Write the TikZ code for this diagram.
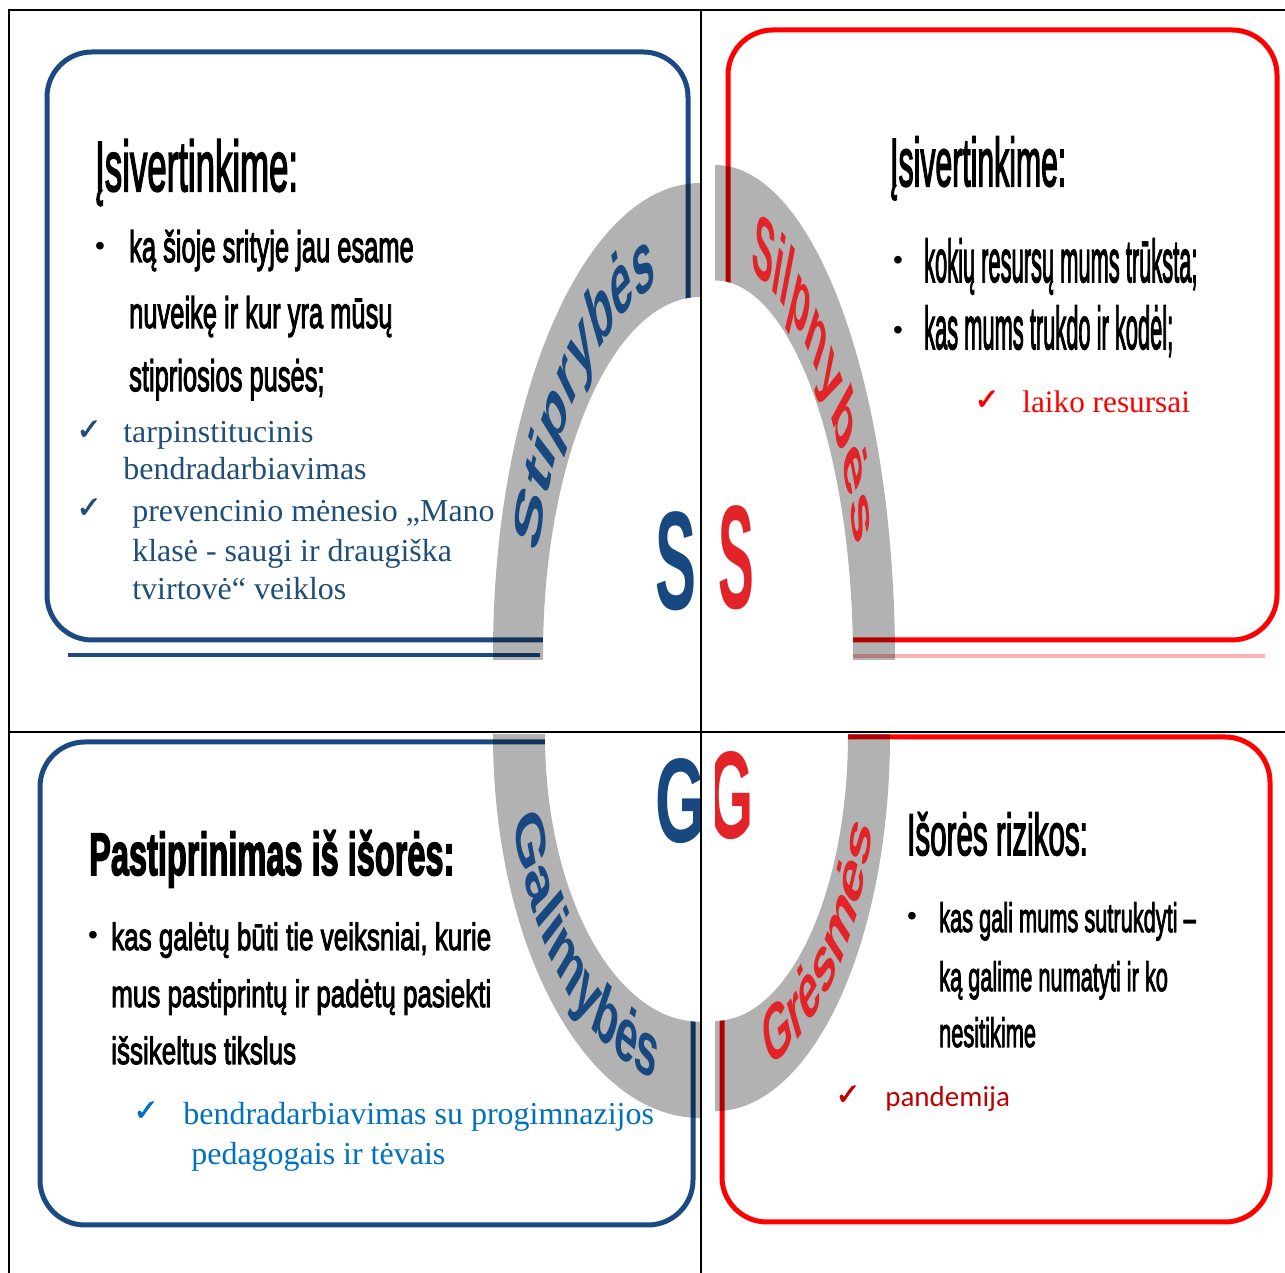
\documentclass[tikz,border=0pt]{standalone}
\usepackage{fontspec}
\setmainfont{Liberation Serif}
\setsansfont{Liberation Sans}
\newfontfamily\calibri{Carlito}
\newfontfamily\narrow[FakeBold=3]{Liberation Sans}
\newfontfamily\checkfont[FakeBold=2]{DejaVu Sans}
\usetikzlibrary{decorations.text}

\definecolor{sblue}{RGB}{24,72,128}
\definecolor{sred}{RGB}{226,36,40}
\definecolor{boxblue}{RGB}{28,73,130}
\definecolor{navy}{RGB}{31,78,121}
\definecolor{wordblue}{RGB}{0,112,192}
\definecolor{darkred}{RGB}{192,0,0}

\newcommand{\fs}[1]{\fontsize{#1}{#1}\selectfont}

\begin{document}
\begin{tikzpicture}[x=0.02cm, y=0.02cm,
    cell/.style={line width=0.04cm},
    bluebox/.style={draw=boxblue, line width=0.1cm, rounded corners=0.9cm},
    redbox/.style={draw=red, line width=0.1cm, rounded corners=0.9cm},
    band/.style={fill=black, fill opacity=0.3, even odd rule},
    txt/.style={anchor=base west, inner sep=0pt},
    tick/.style={inner sep=0pt, font=\checkfont\fs{17}},
    dot/.style={inner sep=0pt, font=\sffamily\fs{16}}]

  \useasboundingbox (0,0) rectangle (1285,1273);

  %%% boxes %%%
  \draw[bluebox] (47,633) rectangle (688,1221);
  \draw[boxblue, line width=0.08cm] (68,618) -- (540,618);
  \draw[redbox] (728,633) rectangle (1277,1243);
  \draw[red!30, line width=0.08cm] (853,617) -- (1265,617);
  \draw[bluebox] (40,48) rectangle (693,531);
  \draw[redbox] (722,51) rectangle (1270,536);

  %%% Stiprybes %%%
  \begin{scope}
    \clip (0,613) rectangle (701,1263);
    \begin{scope}[transform canvas={shift={(700,618)}, yscale=2.28}]
      \fill[white] (0,0) circle[radius=157];
      \fill[band] (0,0) circle[radius=207] (0,0) circle[radius=157];
      \path[decorate, decoration={text along path, text align=center, text color=sblue,
        text={|\sffamily\bfseries\fs{22}|Stiprybės}}]
        (165:168) arc[start angle=165, end angle=105, radius=168];
      \node[font=\sffamily\bfseries\fs{35}, text=sblue, inner sep=0pt] (S1) at (-24,41) {S};
    \end{scope}
  \end{scope}

  %%% Silpnybes %%%
  \begin{scope}
    \clip (715,613) rectangle (1285,1263);
    \begin{scope}[transform canvas={shift={(715,613)}, yscale=2.75}]
      \fill[white] (0,0) circle[radius=138];
      \fill[band] (0,0) circle[radius=180] (0,0) circle[radius=138];
      \path[decorate, decoration={text along path, text align=center, text color=sred,
        text={|\sffamily\bfseries\fs{18.5}|Silpnybės}}]
        (86:146) arc[start angle=86, end angle=6, radius=146];
      \node[font=\sffamily\bfseries\fs{30.5}, text=sred, inner sep=0pt] (S2) at (21,37) {S};
    \end{scope}
  \end{scope}

  %%% Galimybes %%%
  \begin{scope}
    \clip (9,0) rectangle (701,538);
    \begin{scope}[transform canvas={shift={(700,538)}, yscale=1.85}]
      \fill[white] (0,0) circle[radius=155];
      \fill[band] (0,0) circle[radius=207] (0,0) circle[radius=155];
      \path[decorate, decoration={text along path, text align=center, text color=sblue,
        text={|\sffamily\bfseries\fs{23.5}|Galimybės}}]
        (190:192) arc[start angle=190, end angle=260, radius=192];
      \node[font=\sffamily\bfseries\fs{37}, text=sblue, inner sep=0pt] (G1) at (-19,-36) {G};
    \end{scope}
  \end{scope}

  %%% Gresmes %%%
  \begin{scope}
    \clip (715,0) rectangle (1285,538);
    \begin{scope}[transform canvas={shift={(715,538)}, yscale=2.15}]
      \fill[white] (0,0) circle[radius=133];
      \fill[band] (0,0) circle[radius=175] (0,0) circle[radius=133];
      \path[decorate, decoration={text along path, text align=center, text color=sred,
        text={|\sffamily\bfseries\fs{21}|Grėsmės}}]
        (287:164) arc[start angle=287, end angle=347, radius=164];
      \node[font=\sffamily\bfseries\fs{33}, text=sred, inner sep=0pt] (G2) at (16,-28) {G};
    \end{scope}
  \end{scope}

  % top left
  \node[txt, xscale=0.49, font=\narrow\fs{40.4}] (tl0) at (95,1082) {Įsivertinkime:};
  \node[dot] (tlb) at (100,1024) {•};
  \node[txt, xscale=0.58, font=\narrow\fs{25}] (tl1) at (129,1011) {ką šioje srityje jau esame};
  \node[txt, xscale=0.58, font=\narrow\fs{25}] (tl2) at (129,945) {nuveikę ir kur yra mūsų};
  \node[txt, xscale=0.58, font=\narrow\fs{25}] (tl3) at (129,882) {stipriosios pusės;};
  \node[tick, text=navy] (tlc1) at (89,843) {✓};
  \node[txt, text=navy, font=\fs{18.2}] (tl4) at (123,830) {tarpinstitucinis};
  \node[txt, text=navy, font=\fs{18.2}] (tl5) at (123,793) {bendradarbiavimas};
  \node[tick, text=navy] (tlc2) at (89,765) {✓};
  \node[txt, text=navy, font=\fs{18.2}] (tl6) at (132,751) {prevencinio mėnesio „Mano};
  \node[txt, text=navy, font=\fs{18.2}] (tl7) at (132,711) {klasė - saugi ir draugiška};
  \node[txt, text=navy, font=\fs{18.2}] (tl8) at (132,673) {tvirtovė“ veiklos};

  % top right
  \node[txt, xscale=0.444, font=\narrow\fs{38.7}] (tr0) at (890,1087) {Įsivertinkime:};
  \node[dot] (trb1) at (898,1010) {•};
  \node[txt, xscale=0.365, font=\narrow\fs{34.1}] (tr1) at (924,991) {kokių resursų mums trūksta;};
  \node[dot] (trb2) at (898,940) {•};
  \node[txt, xscale=0.365, font=\narrow\fs{34.1}] (tr2) at (924,924) {kas mums trukdo ir kodėl;};
  \node[tick, text=red] (trc) at (987,873) {✓};
  \node[txt, text=red, font=\fs{17.8}] (tr3) at (1022,860) {laiko resursai};

  % bottom left
  \node[txt, xscale=0.543, font=\narrow\bfseries\fs{34.1}] (bl0) at (89,398) {Pastiprinimas iš išorės:};
  \node[dot] (blb) at (93,335) {•};
  \node[txt, xscale=0.685, font=\narrow\fs{21.6}] (bl1) at (111,323) {kas galėtų būti tie veiksniai, kurie};
  \node[txt, xscale=0.685, font=\narrow\fs{21.6}] (bl2) at (111,266) {mus pastiprintų ir padėtų pasiekti};
  \node[txt, xscale=0.685, font=\narrow\fs{21.6}] (bl3) at (111,209) {išsikeltus tikslus};
  \node[tick, text=wordblue] (blc) at (146,162) {✓};
  \node[txt, text=wordblue, font=\fs{18.2}] (bl4) at (183,148) {bendradarbiavimas su progimnazijos};
  \node[txt, text=wordblue, font=\fs{18.2}] (bl5) at (191,108) {pedagogais ir tėvais};

  % bottom right
  \node[txt, xscale=0.504, font=\narrow\fs{33.4}] (br0) at (907,418) {Išorės rizikos:};
  \node[dot] (brb) at (912,354) {•};
  \node[txt, xscale=0.532, font=\narrow\fs{23.3}] (br1) at (939,341) {kas gali mums sutrukdyti –};
  \node[txt, xscale=0.532, font=\narrow\fs{23.3}] (br2) at (939,282) {ką galime numatyti ir ko};
  \node[txt, xscale=0.532, font=\narrow\fs{23.3}] (br3) at (939,226) {nesitikime};
  \node[tick, text=darkred] (brc) at (848,178) {✓};
  \node[txt, text=darkred, font=\calibri\fs{16.5}] (br4) at (885,166) {pandemija};

  %%% table lines %%%
  \draw[cell] (9,0) -- (9,1263) -- (1285,1263);
  \draw[cell] (701,0) -- (701,1263);
  \draw[cell] (9,541) -- (1285,541);

\end{tikzpicture}
\end{document}
